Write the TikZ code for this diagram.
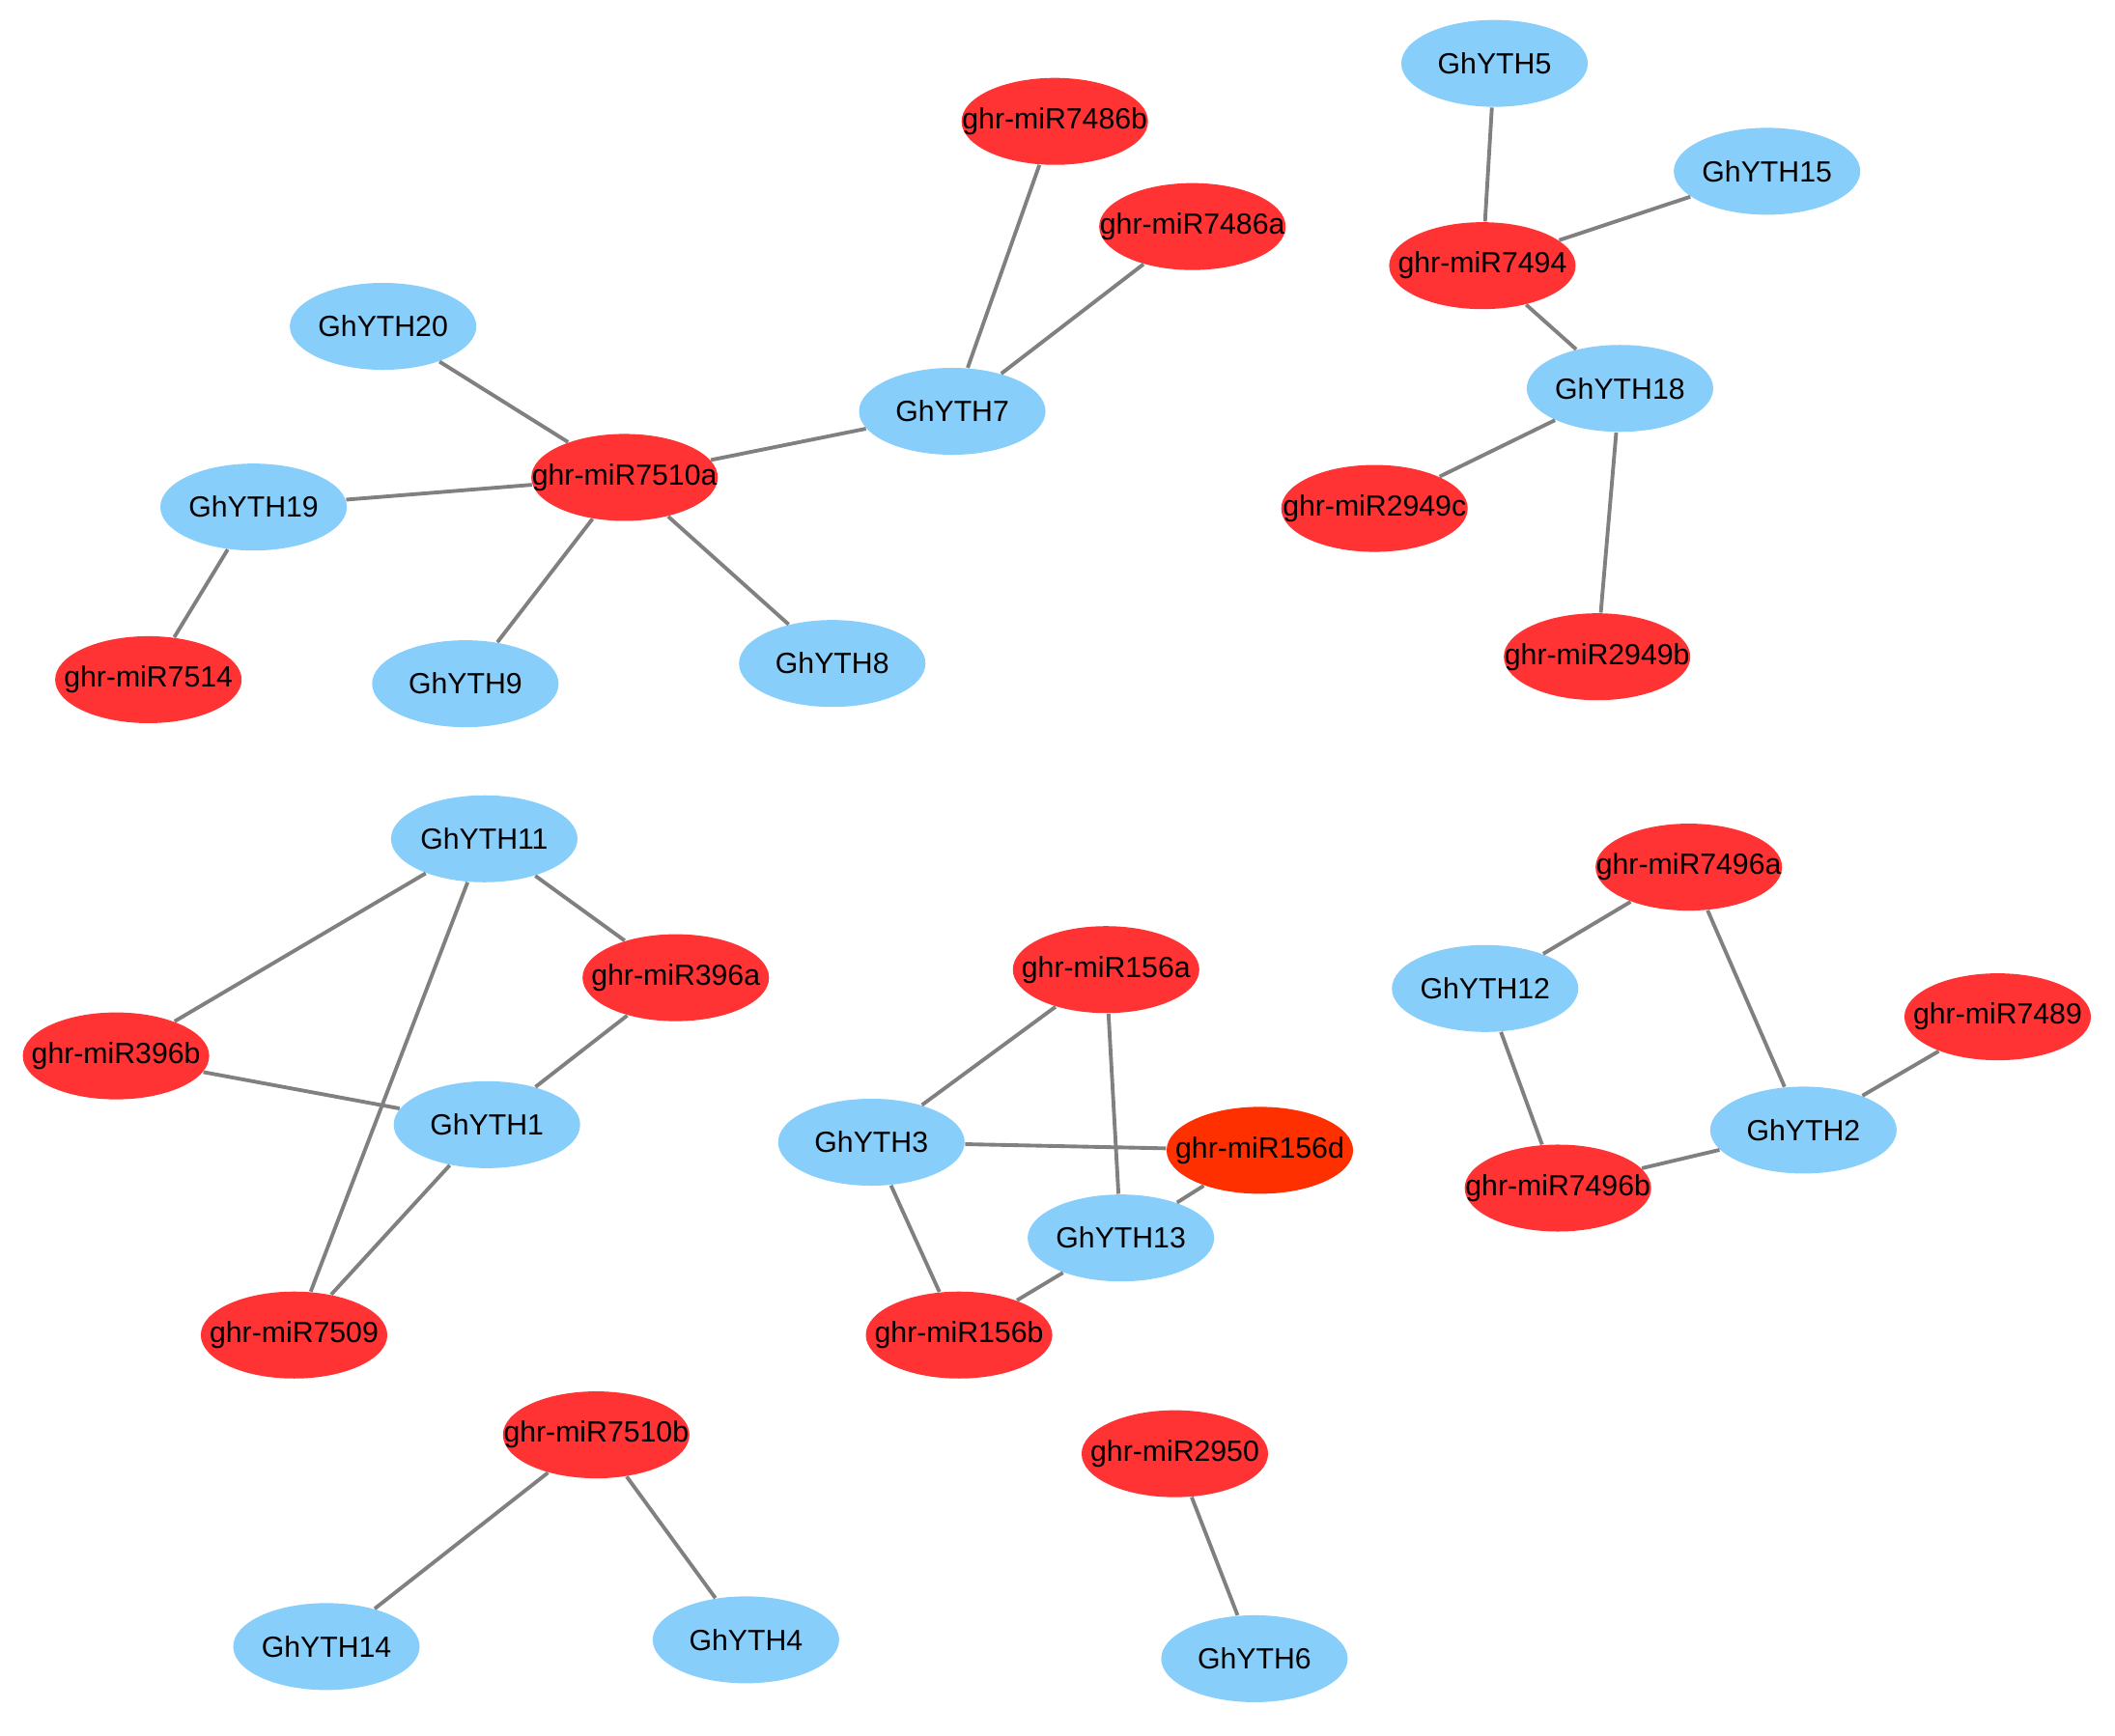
\documentclass[tikz,border=0pt]{standalone}
\usepackage{fontspec}
\setmainfont{Liberation Sans}
\usetikzlibrary{shapes.geometric}
\definecolor{mired}{RGB}{255,51,51}
\definecolor{miorange}{RGB}{255,48,0}
\definecolor{ythblue}{RGB}{135,206,250}
\definecolor{edgegray}{RGB}{128,128,128}
\newcommand{\lbl}[1]{\makebox[0pt]{#1}}
\tikzset{
  base/.style={ellipse, inner sep=0pt, minimum width=1.93cm, minimum height=0.90cm,
    font=\fontsize{8.6}{10}\selectfont, text=black},
  mir/.style={base, fill=mired},
  mirb/.style={base, fill=miorange},
  yth/.style={base, fill=ythblue},
  link/.style={draw=edgegray, line width=1.1pt}
}
\begin{document}
\begin{tikzpicture}[x=0.013967cm, y=-0.013967cm]
\useasboundingbox (0,0) rectangle (1568,1287);
% cluster 1
\node[yth] (y5) at (1108,47) {\lbl{GhYTH5}};
\node[yth] (y15) at (1310,127) {\lbl{GhYTH15}};
\node[mir] (m7494) at (1099,197) {\lbl{ghr-miR7494}};
\node[yth] (y18) at (1201,288) {\lbl{GhYTH18}};
\node[mir] (m2949c) at (1019,377) {\lbl{ghr-miR2949c}};
\node[mir] (m2949b) at (1184,487) {\lbl{ghr-miR2949b}};
% cluster 2
\node[mir] (m7486b) at (782,90) {\lbl{ghr-miR7486b}};
\node[mir] (m7486a) at (884,168) {\lbl{ghr-miR7486a}};
\node[yth] (y7) at (706,305) {\lbl{GhYTH7}};
\node[yth] (y20) at (284,242) {\lbl{GhYTH20}};
\node[mir] (m7510a) at (463,354) {\lbl{ghr-miR7510a}};
\node[yth] (y19) at (188,376) {\lbl{GhYTH19}};
\node[mir] (m7514) at (110,504) {\lbl{ghr-miR7514}};
\node[yth] (y9) at (345,507) {\lbl{GhYTH9}};
\node[yth] (y8) at (617,492) {\lbl{GhYTH8}};
% cluster 3
\node[yth] (y11) at (359,622) {\lbl{GhYTH11}};
\node[mir] (m396a) at (501,725) {\lbl{ghr-miR396a}};
\node[mir] (m396b) at (86,783) {\lbl{ghr-miR396b}};
\node[yth] (y1) at (361,834) {\lbl{GhYTH1}};
\node[mir] (m7509) at (218,990) {\lbl{ghr-miR7509}};
% cluster 4
\node[mir] (m156a) at (820,719) {\lbl{ghr-miR156a}};
\node[yth] (y3) at (646,847) {\lbl{GhYTH3}};
\node[mirb] (m156d) at (934,853) {\lbl{ghr-miR156d}};
\node[yth] (y13) at (831,918) {\lbl{GhYTH13}};
\node[mir] (m156b) at (711,990) {\lbl{ghr-miR156b}};
% cluster 5
\node[mir] (m7496a) at (1252,643) {\lbl{ghr-miR7496a}};
\node[yth] (y12) at (1101,733) {\lbl{GhYTH12}};
\node[mir] (m7489) at (1481,754) {\lbl{ghr-miR7489}};
\node[yth] (y2) at (1337,838) {\lbl{GhYTH2}};
\node[mir] (m7496b) at (1155,881) {\lbl{ghr-miR7496b}};
% cluster 6
\node[mir] (m7510b) at (442,1064) {\lbl{ghr-miR7510b}};
\node[yth] (y14) at (242,1221) {\lbl{GhYTH14}};
\node[yth] (y4) at (553,1216) {\lbl{GhYTH4}};
% cluster 7
\node[mir] (m2950) at (871,1078) {\lbl{ghr-miR2950}};
\node[yth] (y6) at (930,1230) {\lbl{GhYTH6}};
% edges
\draw[link] (y5) -- (m7494);
\draw[link] (y15) -- (m7494);
\draw[link] (m7494) -- (y18);
\draw[link] (y18) -- (m2949c);
\draw[link] (y18) -- (m2949b);
\draw[link] (m7486b) -- (y7);
\draw[link] (m7486a) -- (y7);
\draw[link] (y7) -- (m7510a);
\draw[link] (y20) -- (m7510a);
\draw[link] (y19) -- (m7510a);
\draw[link] (y19) -- (m7514);
\draw[link] (y9) -- (m7510a);
\draw[link] (y8) -- (m7510a);
\draw[link] (y11) -- (m396b);
\draw[link] (y11) -- (m7509);
\draw[link] (y11) -- (m396a);
\draw[link] (m396a) -- (y1);
\draw[link] (m396b) -- (y1);
\draw[link] (y1) -- (m7509);
\draw[link] (m156a) -- (y3);
\draw[link] (m156a) -- (y13);
\draw[link] (y3) -- (m156d);
\draw[link] (y3) -- (m156b);
\draw[link] (m156d) -- (y13);
\draw[link] (y13) -- (m156b);
\draw[link] (m7496a) -- (y12);
\draw[link] (m7496a) -- (y2);
\draw[link] (y12) -- (m7496b);
\draw[link] (m7496b) -- (y2);
\draw[link] (y2) -- (m7489);
\draw[link] (m7510b) -- (y14);
\draw[link] (m7510b) -- (y4);
\draw[link] (m2950) -- (y6);
\end{tikzpicture}
\end{document}
